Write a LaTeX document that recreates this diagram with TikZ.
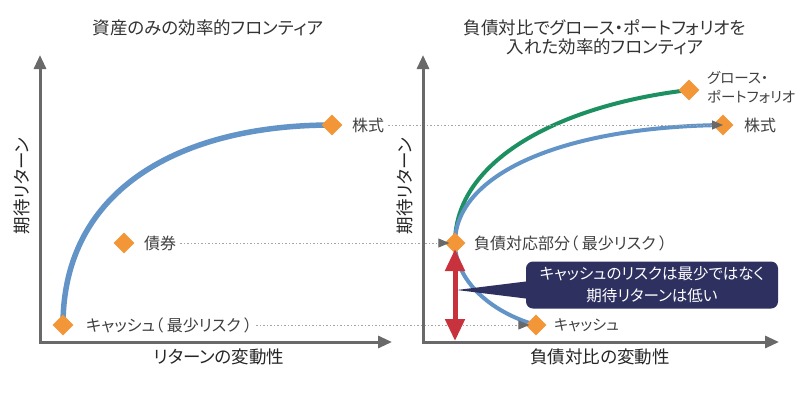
\documentclass[tikz,border=0pt]{standalone}
\usepackage{fontspec}
\setmainfont{Noto Sans CJK JP}[RawFeature=+palt]
\usetikzlibrary{arrows.meta,shapes.geometric,calc}
\definecolor{frontblue}{RGB}{99,148,200}
\definecolor{dorange}{RGB}{242,150,55}
\definecolor{fgreen}{RGB}{28,144,96}
\definecolor{ared}{RGB}{200,50,60}
\definecolor{navy}{RGB}{46,48,96}
\definecolor{axgray}{RGB}{105,105,105}
\definecolor{dotgray}{RGB}{165,165,165}
\definecolor{txt}{RGB}{64,64,64}
\pgfdeclarelayer{bg}
\pgfsetlayers{bg,main}
\begin{document}
\begin{tikzpicture}[x=1pt,y=-1pt,
  dia/.style={diamond,fill=dorange,inner sep=0pt,minimum width=21pt,minimum height=21pt},
  lab/.style={anchor=west,inner sep=1pt,text=txt,font=\fontsize{16}{19}\selectfont},
  ttl/.style={align=center,text=black!80,font=\fontsize{17.5}{19}\selectfont},
  axlab/.style={text=black!85,font=\fontsize{17.5}{19}\selectfont},
  axisline/.style={draw=axgray,line width=3pt,{Triangle[length=14pt,width=12pt]}-{Triangle[length=14pt,width=12pt]}},
  dotline/.style={draw=dotgray,line width=0.9pt,dash pattern=on 1.5pt off 2pt,-{Triangle[length=11pt,width=9pt,color=axgray]}},
  frontL/.style={draw=frontblue,line width=5.5pt},
  frontR/.style={draw=frontblue,line width=4pt},
  frontG/.style={draw=fgreen,line width=4pt},
  redarrow/.style={draw=ared,line width=5pt,{Triangle[length=22pt,width=19pt]}-{Triangle[length=22pt,width=19pt]}},
  callbox/.style={fill=navy,rounded corners=7pt,minimum width=252pt,minimum height=47pt,text=white,align=center,inner sep=0pt,font=\fontsize{15.5}{22}\selectfont}
]
\useasboundingbox (0,0) rectangle (800,392);

% titles
\node[ttl] (titleL) at (208,28) {資産のみの効率的フロンティア};
\node[ttl] (titleR) at (605,37) {負債対比でグロース・ポートフォリオを\\入れた効率的フロンティア};

% diamonds
\node[dia] (cashL) at (63,325) {};
\node[dia] (bondL) at (124,243) {};
\node[dia] (stockL) at (332,125) {};
\node[dia] (liab) at (455,243) {};
\node[dia] (cashR) at (536,325) {};
\node[dia] (growth) at (689,90) {};
\node[dia] (stockR) at (723,125) {};

% labels
\node[lab] (stockLlab) at (351,125) {株式};
\node[lab] (bondLlab) at (143,243) {債券};
\node[lab] (cashLlab) at (85,325) {キャッシュ（ 最少リスク ）};
\node[lab,align=left,font=\fontsize{14.5}{19}\selectfont] (growthlab) at (706,87) {グロース・\\ポートフォリオ};
\node[lab] (stockRlab) at (743,125) {株式};
\node[lab] (liablab) at (473,243) {負債対応部分（ 最少リスク ）};
\node[lab,font=\fontsize{15}{19}\selectfont] (cashRlab) at (553,325) {キャッシュ};

% frontier curves
\begin{pgfonlayer}{bg}
\fill[white] (0,0) rectangle (800,392);
\draw[frontL] (cashL.center) .. controls (63,188) and (182,125) .. (stockL.center);
\draw[frontG] (liab.center) .. controls (455,160) and (560,105) .. (growth.center);
\draw[frontR] (cashR.center) .. controls (490,312) and (455,280) .. (liab.center)
  .. controls (455,175) and (560,127) .. (stockR.center);
\end{pgfonlayer}

% dotted reference lines
\draw[dotline,shorten <=3pt] (stockLlab.east) -- (stockR.center);
\draw[dotline,shorten <=3pt,shorten >=-5pt] (bondLlab.east) -- (liab.west);
\draw[dotline,shorten <=3pt,shorten >=-4pt] (cashLlab.east) -- (cashR.west);

% axes
\coordinate (yLtop) at (40,55);
\coordinate (oL) at (40,342);
\coordinate (xLend) at (392,342);
\coordinate (yRtop) at (423,55);
\coordinate (oR) at (423,342);
\coordinate (xRend) at (779,342);
\draw[axisline] (yLtop) -- (oL) -- (xLend);
\draw[axisline] (yRtop) -- (oR) -- (xRend);
\node[axlab,rotate=90] (ylabL) at (22,186) {期待リターン};
\node[axlab,rotate=90] (ylabR) at (405,186) {期待リターン};
\node[axlab] (xlabL) at (219,357) {リターンの変動性};
\node[axlab] (xlabR) at (600,357) {負債対比の変動性};

% red arrow
\coordinate (rTop) at (455,249);
\coordinate (rBot) at (455,341);
\draw[redarrow] (rTop) -- (rBot);

% callout
\node[callbox] (callout) at (652,285) {キャッシュのリスクは最少ではなく\\期待リターンは低い};
\coordinate (ptip) at (457,290);
\fill[navy] (ptip) -- ($(callout.west)+(4,-4)$) -- ($(callout.west)+(4,14)$) -- cycle;
\end{tikzpicture}
\end{document}
